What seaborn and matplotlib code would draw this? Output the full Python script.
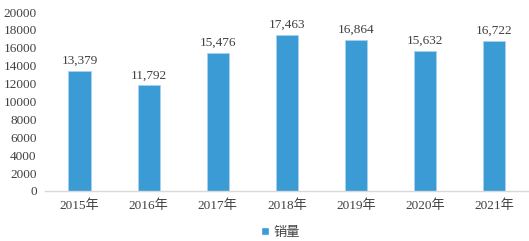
import matplotlib
matplotlib.use("Agg")
import matplotlib.pyplot as plt
import seaborn as sns
import pandas as pd

years = ["2015年", "2016年", "2017年", "2018年", "2019年", "2020年", "2021年"]
sales = [13379, 11792, 15476, 17463, 16864, 15632, 16722]
yticks = [0, 2000, 4000, 6000, 8000, 10000, 12000, 14000, 16000, 18000, 20000]

sns.set_theme(style="white")
plt.rcParams['font.family'] = ['Liberation Serif', 'Noto Sans CJK SC']

df = pd.DataFrame({"year": years, "销量": sales})

fig = plt.figure(figsize=(5.29, 2.41), dpi=100)
ax = fig.add_axes([0.085, 0.2075, 0.915, 0.7425])
color = "#3A9BD5"
sns.barplot(data=df, x="year", y="销量", color=color, width=0.32, ax=ax,
            saturation=1, edgecolor="#a9d1ee", linewidth=0.6)

ax.set_ylim(0, 20000)
ax.set_yticks(yticks)
ax.set_yticklabels([str(v) for v in yticks])
ax.set_xlabel("")
ax.set_ylabel("")
for s in ["top", "right", "left"]:
    ax.spines[s].set_visible(False)
ax.spines["bottom"].set_color("#d9d9d9")
ax.spines["bottom"].set_linewidth(1)
ax.tick_params(axis="both", length=0, labelsize=9.5, colors="#404040")
ax.tick_params(axis="y", pad=6)
ax.tick_params(axis="x", pad=6)
ax.set_xlim(-0.5, 6.5)

for i, v in enumerate(sales):
    ax.annotate(f"{v:,}", (i, v), xytext=(0, 3), textcoords="offset points",
                ha="center", va="bottom", fontsize=9.5, color="#404040")

from matplotlib.patches import Patch
leg = fig.legend(handles=[Patch(facecolor=color, label="销量")],
                 loc="center", bbox_to_anchor=(0.53, 0.035), frameon=False,
                 fontsize=9.5, handlelength=0.6, handleheight=0.6, handletextpad=0.3)
for t in leg.get_texts():
    t.set_color("#404040")

fig.savefig("out.png", dpi=100)
